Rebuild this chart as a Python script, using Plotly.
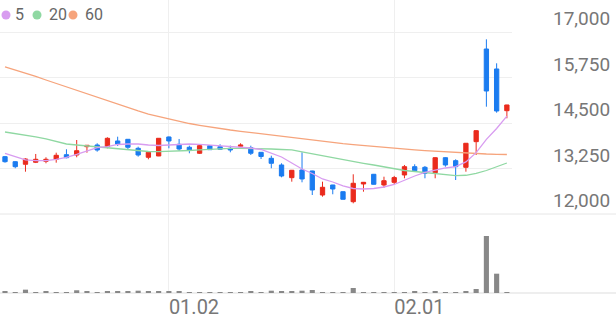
import plotly.graph_objects as go

# ---------------- data ----------------
open_ = [13575, 13437, 13366, 13421, 13448, 13503, 13629, 13621, 13849, 13896,
         13849, 14006, 14052, 13805, 13558, 13594, 14116, 13915, 13833, 13668,
         13877, 13849, 13805, 13860, 13822, 13695, 13530, 13347, 12998, 13209,
         13182, 12522, 12797, 12613, 12338, 12825, 13091, 12797, 12870, 13072,
         13300, 13283, 13135, 13547, 13465, 13283, 13987, 16533, 15984, 14838]
high = [13594, 13450, 13530, 13649, 13558, 13684, 13778, 14033, 13890, 13943,
        14107, 14124, 14060, 13849, 13700, 14085, 14130, 14061, 13877, 13890,
        13890, 13915, 13877, 13943, 13877, 13700, 13602, 13393, 13210, 13695,
        13190, 12888, 12800, 12620, 13091, 12880, 13100, 13025, 13047, 13347,
        13366, 13319, 13560, 13560, 13503, 13950, 14300, 16799, 16140, 15000]
low = [13410, 13256, 13162, 13400, 13393, 13410, 13530, 13558, 13684, 13712,
       13805, 13868, 13778, 13575, 13503, 13590, 13805, 13731, 13668, 13650,
       13760, 13758, 13695, 13786, 13621, 13511, 13256, 13008, 12888, 12871,
       12522, 12476, 12542, 12400, 12294, 12613, 12810, 12723, 12825, 12981,
       13162, 12981, 12981, 13300, 12934, 13162, 13621, 14948, 14783, 14629]
close = [13437, 13300, 13511, 13503, 13503, 13613, 13547, 13739, 13888, 13758,
         14080, 13923, 13833, 13621, 13695, 14080, 14006, 13786, 13750, 13877,
         13767, 13778, 13758, 13896, 13668, 13580, 13393, 13044, 13201, 12962,
         12660, 12734, 12687, 12404, 12844, 12871, 12816, 12915, 13000, 13300,
         13190, 13118, 13547, 13347, 13300, 13943, 14289, 15379, 14830, 14995]

ma5 = [13668, 13575, 13484, 13465, 13465, 13498, 13558, 13640, 13739, 13822,
       13849, 13910, 13923, 13923, 13896, 13882, 13896, 13910, 13923, 13915,
       13896, 13868, 13855, 13833, 13813, 13772, 13676, 13566, 13401, 13237,
       13113, 12962, 12879, 12770, 12701, 12687, 12701, 12742, 12811, 12934,
       13044, 13141, 13209, 13264, 13300, 13430, 13685, 14052, 14348, 14687]
ma20 = [14253, 14212, 14157, 14116, 14061, 13992, 13923, 13896, 13868, 13849,
        13827, 13800, 13759, 13731, 13717, 13712, 13717, 13731, 13745, 13759,
        13778, 13794, 13805, 13805, 13805, 13800, 13786, 13772, 13759, 13704,
        13649, 13602, 13553, 13498, 13443, 13393, 13346, 13292, 13228, 13195,
        13168, 13140, 13113, 13072, 13053, 13064, 13113, 13195, 13292, 13401]
ma60 = [16039, 15956, 15874, 15778, 15681, 15585, 15489, 15393, 15297, 15201,
        15105, 15008, 14912, 14830, 14747, 14679, 14610, 14541, 14486, 14437,
        14390, 14349, 14308, 14272, 14237, 14198, 14162, 14129, 14094, 14061,
        14028, 13995, 13965, 13934, 13907, 13879, 13855, 13830, 13805, 13783,
        13761, 13742, 13723, 13704, 13687, 13673, 13660, 13649, 13640, 13635]

volume = [50000, 33000, 110000, 33000, 43000, 33000, 33000, 90000, 40000, 33000,
          66000, 50000, 40000, 76000, 40000, 66000, 50000, 40000, 33000, 33000,
          33000, 26000, 26000, 26000, 50000, 33000, 76000, 43000, 50000, 76000,
          100000, 17000, 17000, 33000, 165000, 33000, 26000, 26000, 26000, 26000,
          40000, 33000, 40000, 33000, 26000, 66000, 132000, 1880000, 637000, 33000]

x_ticks = [16, 38]
x_tick_labels = ["01.02", "02.01"]
price_ticks = [12000, 13250, 14500, 15750, 17000]
ma_names = ["5", "20", "60"]

# ---------------- style ----------------
RED = "#ea2b1d"
BLUE = "#1b7cf0"
MA_COLORS = ["#d89cf0", "#8fd8a2", "#f6a47c"]
GRID = "#efefef"
TXT = "#777777"
FONT = "Roboto"

W, H = 616, 321
plot_w = 512
plot_bottom = 293
sep_px = 214

x = list(range(len(close)))

fig = go.Figure()

for vals, col, name in zip([ma60, ma20, ma5], MA_COLORS[::-1], ma_names[::-1]):
    fig.add_trace(go.Scatter(x=x, y=vals, mode="lines", name=name,
                             line=dict(color=col, width=1.3),
                             xaxis="x", yaxis="y", hoverinfo="skip"))

fig.add_trace(go.Candlestick(
    x=x, open=open_, high=high, low=low, close=close,
    increasing=dict(line=dict(color=RED, width=1), fillcolor=RED),
    decreasing=dict(line=dict(color=BLUE, width=1), fillcolor=BLUE),
    whiskerwidth=0, xaxis="x", yaxis="y", name="price"))

fig.add_trace(go.Bar(x=x, y=volume, marker=dict(color="#888888", line=dict(width=0)),
                     width=0.5, xaxis="x2", yaxis="y2", name="vol"))

spacing = plot_w / 49.988
x_range = [-0.488, -0.488 + plot_w / spacing]

price_top = 17000 + (32 - 0) * (5000 / 182)
vmax = max(volume) * (plot_bottom - sep_px) / 57.0
split = (plot_bottom - sep_px) / plot_bottom

fig.update_layout(
    width=W, height=H, autosize=False,
    margin=dict(l=0, r=W - plot_w, t=0, b=H - plot_bottom),
    paper_bgcolor="white", plot_bgcolor="white",
    showlegend=False, boxgap=0.4,
    font=dict(family=FONT, color=TXT, size=19),
    xaxis=dict(domain=[0, 1], range=x_range, anchor="y", showticklabels=False,
               tickvals=x_ticks, showgrid=True, gridcolor=GRID, gridwidth=1,
               zeroline=False, showline=False, ticks="",
               rangeslider=dict(visible=False), matches="x2"),
    xaxis2=dict(domain=[0, 1], range=x_range, anchor="y2",
                tickvals=x_ticks, ticktext=x_tick_labels,
                ticklabelposition="outside right",
                showgrid=True, gridcolor=GRID, gridwidth=1,
                zeroline=False, showline=False, ticks="",
                tickfont=dict(size=20, color=TXT, family=FONT)),
    yaxis=dict(domain=[split, 1], range=[12000, price_top], side="right",
               tickvals=price_ticks, ticktext=[f"{v:,}" for v in price_ticks],
               ticklabelposition="outside top", ticklabelstandoff=40,
               showgrid=True, gridcolor=GRID, gridwidth=1,
               zeroline=False, showline=False, ticks="",
               tickfont=dict(size=19, color=TXT, family=FONT)),
    yaxis2=dict(domain=[0, split], range=[0, vmax], showticklabels=False,
                showgrid=False, zeroline=False, showline=False, ticks=""),
)

ext = W / plot_w
fig.add_shape(type="line", xref="paper", yref="paper", x0=0, x1=ext, y0=split, y1=split,
              line=dict(color="#e6e6e6", width=1), layer="below")
fig.add_shape(type="line", xref="paper", yref="paper", x0=0, x1=ext, y0=0, y1=0,
              line=dict(color="#dddddd", width=1), layer="below")

# legend: dots + labels
dot_px = [6, 37, 73]
txt_px = [13, 47, 83]
for name, col, dx, tx in zip(ma_names, MA_COLORS, dot_px, txt_px):
    fig.add_shape(type="circle", xref="paper", yref="paper",
                  xsizemode="pixel", ysizemode="pixel",
                  xanchor=dx / plot_w, yanchor=(plot_bottom - 15) / plot_bottom,
                  x0=-4.5, x1=4.5, y0=-4.5, y1=4.5,
                  fillcolor=col, line=dict(width=0))
    fig.add_annotation(xref="paper", yref="paper", x=tx / plot_w,
                       y=(plot_bottom - 15) / plot_bottom,
                       xanchor="left", yanchor="middle", showarrow=False,
                       text=name, font=dict(size=16, color="#666666", family=FONT))

fig.write_html("out.html")
